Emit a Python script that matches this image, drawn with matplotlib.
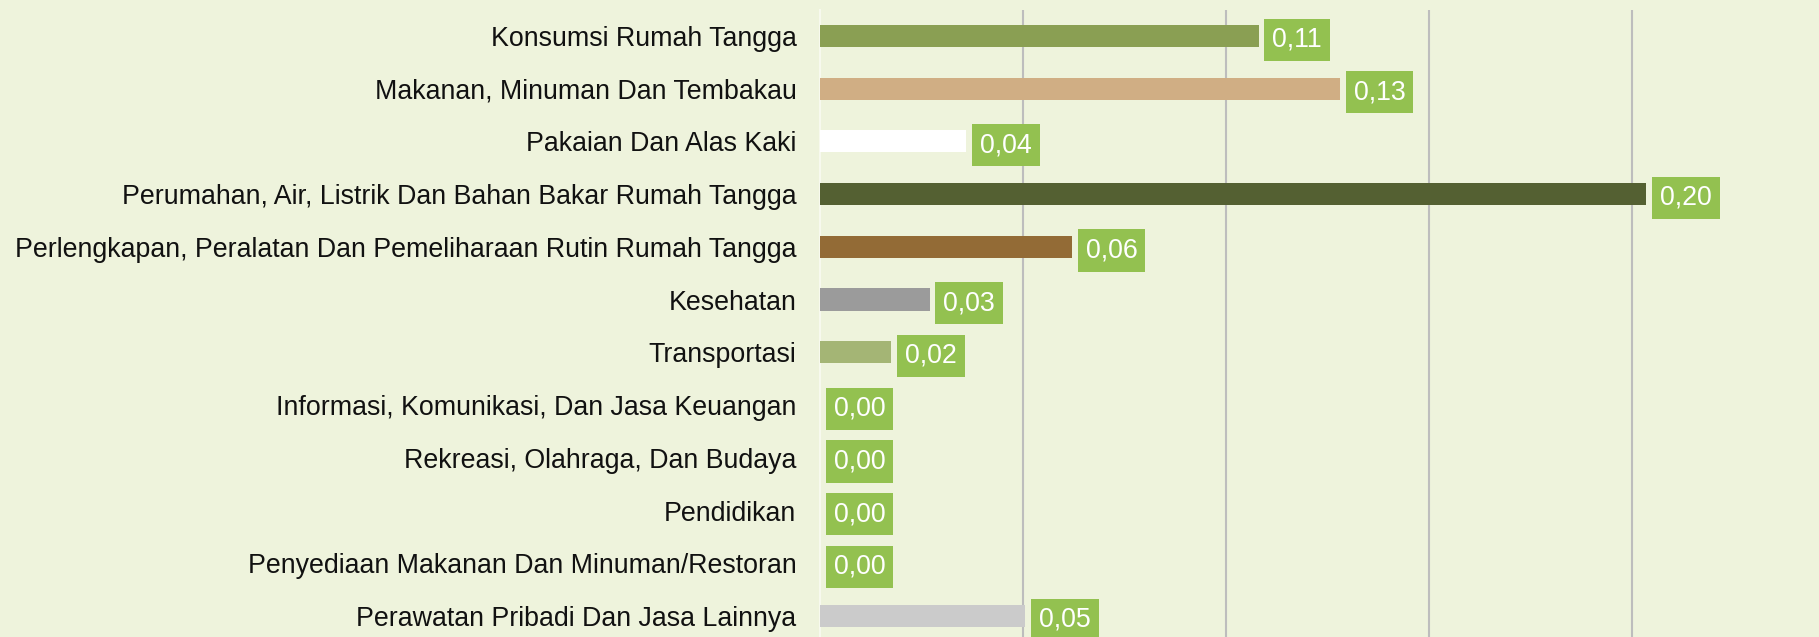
import matplotlib.pyplot as plt

plt.rcParams['font.family'] = ['Liberation Sans', 'DejaVu Sans']

# data
categories = [
    "Konsumsi Rumah Tangga",
    "Makanan, Minuman Dan Tembakau",
    "Pakaian Dan Alas Kaki",
    "Perumahan, Air, Listrik Dan Bahan Bakar Rumah Tangga",
    "Perlengkapan, Peralatan Dan Pemeliharaan Rutin Rumah Tangga",
    "Kesehatan",
    "Transportasi",
    "Informasi, Komunikasi, Dan Jasa Keuangan",
    "Rekreasi, Olahraga, Dan Budaya",
    "Pendidikan",
    "Penyediaan Makanan Dan Minuman/Restoran",
    "Perawatan Pribadi Dan Jasa Lainnya",
]
values = [0.108, 0.128, 0.036, 0.2035, 0.062, 0.027, 0.0175, 0.0, 0.0, 0.0, 0.0, 0.0505]
labels = ["0,11", "0,13", "0,04", "0,20", "0,06", "0,03", "0,02",
          "0,00", "0,00", "0,00", "0,00", "0,05"]
colors = ["#8A9F53", "#D0AE84", "#FFFFFF", "#546032", "#936B36", "#9B9B9B",
          "#A4B575", "#A4B575", "#A4B575", "#A4B575", "#A4B575", "#CBCBCB"]

bg = "#EEF3DC"
fig = plt.figure(figsize=(18.19, 6.37), dpi=100, facecolor=bg)
ax = fig.add_axes([820 / 1819, 0, 1 - 820 / 1819, 1 - 9.5 / 637])
ax.set_facecolor(bg)

y = list(range(len(categories)))
ax.barh(y, values, height=0.42, color=colors, zorder=3)

# value labels in green boxes, sitting a touch below the bar centre
for yi, v, lab in zip(y, values, labels):
    ax.text(v + 0.0034, yi + 0.07, lab, va="center", ha="left", fontsize=19.3,
            color="white", zorder=4,
            bbox=dict(boxstyle="square,pad=0.3", fc="#93C150", ec="none"))

ax.set_xlim(0, 0.246)
ax.set_ylim(11 + 21 / 52.7, -0.5)
ax.set_xticks([0.05, 0.10, 0.15, 0.20])
ax.xaxis.grid(True, color="#BDBDBD", linewidth=1.5, zorder=0)
ax.tick_params(axis="x", length=0, labelbottom=False)
ax.tick_params(axis="y", length=0, pad=17, labelsize=19.3, labelcolor="#111111")
ax.set_yticks(y)
ax.set_yticklabels(categories)

for s in ["top", "right", "bottom"]:
    ax.spines[s].set_visible(False)
ax.spines["left"].set_color("#F7F9EE")
ax.spines["left"].set_linewidth(1.5)

fig.savefig("out.png", dpi=100, facecolor=bg)
